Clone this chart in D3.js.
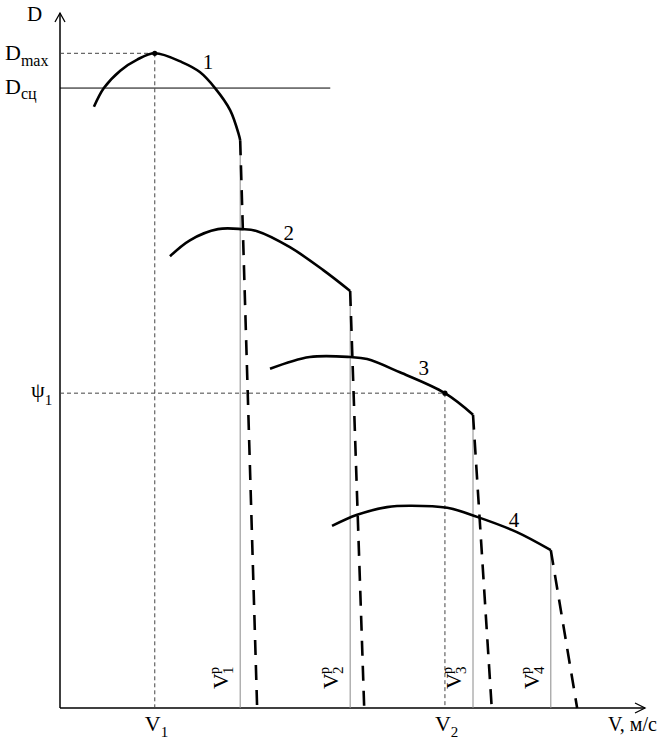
<!DOCTYPE html>
<html><head><meta charset="utf-8">
<script src="https://cdn.jsdelivr.net/npm/d3@7"></script>
<style>body{margin:0;background:#fff}svg{display:block}text{font-family:"Liberation Serif","Times New Roman",serif;fill:#000}</style>
</head><body>
<script>
// ---- data (arbitrary units: V along x, D along y) ----
const curveNames = ["1", "2", "3", "4"];
const curve1 = [[0.58,8.65],[0.75,8.92],[1.03,9.17],[1.32,9.33],[1.62,9.42],[2.09,9.29],[2.39,9.15],[2.65,8.92],[2.91,8.60],[3.06,8.24],[3.08,8.17]];
const curve2 = [[1.88,6.50],[2.22,6.73],[2.70,6.89],[3.11,6.89],[3.37,6.86],[3.93,6.63],[4.50,6.30],[4.96,6.00]];
const curve3 = [[3.59,4.88],[4.27,5.05],[4.96,5.05],[5.25,5.02],[5.81,4.83],[6.58,4.53],[7.06,4.22]];
const curve4 = [[4.65,2.62],[5.08,2.78],[5.59,2.89],[5.98,2.91],[6.62,2.88],[7.13,2.75],[7.81,2.53],[8.39,2.27]];
const criticalV = [3.08, 4.96, 7.06, 8.39];   // V^p_i
const dropEndV = [3.37, 5.20, 7.38, 8.84];    // where dashed drop reaches D=0
const Dmax = 9.42, V1 = 1.62;
const Dsc = 8.92, DscEndV = 4.62;
const psi1 = 4.53, V2 = 6.58;
const xAxisLabel = "V, м/с", yAxisLabel = "D";

const W = 671, H = 745;
const svg = d3.select("body").append("svg").attr("width", W).attr("height", H);
const x = d3.scaleLinear().domain([0, 10]).range([60, 645]);
const y = d3.scaleLinear().domain([0, 10]).range([708, 13]);
const curves = [curve1, curve2, curve3, curve4];

// axes
const ax = svg.append("g").attr("stroke", "#000").attr("stroke-width", 1.5).attr("fill", "none");
ax.append("line").attr("x1", x(0)).attr("y1", y(0)).attr("x2", x(0)).attr("y2", y(10));
ax.append("line").attr("x1", x(0)).attr("y1", y(0)).attr("x2", x(10)).attr("y2", y(0));
ax.append("path").attr("d", `M${x(0)-5},${y(10)+9}L${x(0)},${y(10)}L${x(0)+5},${y(10)+9}`).attr("stroke-width", 1.3);
ax.append("path").attr("d", `M${x(10)-10},${y(0)-5}L${x(10)},${y(0)}L${x(10)-10},${y(0)+5}`).attr("stroke-width", 1.3);

// reference lines
const thin = svg.append("g").attr("fill", "none");
thin.append("line").attr("x1", x(0)).attr("x2", x(DscEndV)).attr("y1", y(Dsc)).attr("y2", y(Dsc)).attr("stroke", "#000").attr("stroke-width", 1);
const dashRef = [[[0, Dmax], [V1, Dmax]], [[V1, Dmax], [V1, 0]], [[0, psi1], [V2, psi1]], [[V2, psi1], [V2, 0]]];
dashRef.forEach(s => thin.append("line")
  .attr("x1", x(s[0][0])).attr("y1", y(s[0][1])).attr("x2", x(s[1][0])).attr("y2", y(s[1][1]))
  .attr("stroke", "#444").attr("stroke-width", 1).attr("stroke-dasharray", "4,3"));

// critical-speed verticals (thin gray)
criticalV.forEach((v, i) => {
  const c = curves[i], end = c[c.length - 1];
  thin.append("line").attr("x1", x(v)).attr("x2", x(v)).attr("y1", y(end[1])).attr("y2", y(0))
    .attr("stroke", "#8a8a8a").attr("stroke-width", 1);
});

// curves
const line = d3.line().x(d => x(d[0])).y(d => y(d[1])).curve(d3.curveCatmullRom.alpha(0.5));
curves.forEach(c => svg.append("path").attr("d", line(c)).attr("fill", "none")
  .attr("stroke", "#000").attr("stroke-width", 2.6).attr("stroke-linejoin", "round"));

// dashed drops
curves.forEach((c, i) => {
  const end = c[c.length - 1];
  svg.append("line").attr("x1", x(end[0])).attr("y1", y(end[1])).attr("x2", x(dropEndV[i])).attr("y2", y(0))
    .attr("stroke", "#000").attr("stroke-width", 2.6).attr("stroke-dasharray", "15,10");
});

// points
[[V1, Dmax], [V2, psi1]].forEach(p => svg.append("circle").attr("cx", x(p[0])).attr("cy", y(p[1])).attr("r", 2.6).attr("fill", "#000"));

// curve number labels
const labelPos = [[2.53, 9.29], [3.91, 6.83], [6.22, 4.89], [7.76, 2.71]];
curveNames.forEach((n, i) => svg.append("text").attr("x", x(labelPos[i][0])).attr("y", y(labelPos[i][1]) + 7)
  .attr("text-anchor", "middle").attr("font-size", 21).attr("fill", "#000").text(n));

// axis labels
svg.append("text").attr("x", 27).attr("y", 21).attr("font-size", 21).attr("fill", "#000").text(yAxisLabel);
svg.append("text").attr("x", 608).attr("y", 731).attr("font-size", 20).attr("fill", "#000").text(xAxisLabel);

// D_max, D_сц, ψ1
function subLabel(px, py, main, sub, subDy, mainSize, subSize) {
  const t = svg.append("text").attr("x", px).attr("y", py).attr("font-size", mainSize).attr("fill", "#000");
  t.append("tspan").text(main);
  t.append("tspan").attr("dy", subDy).attr("font-size", subSize).text(sub);
}
subLabel(5, y(Dmax) + 7, "D", "max", 6, 22, 16);
subLabel(5, y(Dsc) + 6, "D", "сц", 5, 22, 16);
subLabel(31, y(psi1) + 4, "ψ", "1", 8, 22, 15);
subLabel(x(V1) - 10, 731, "V", "1", 6, 22, 15);
subLabel(x(V2) - 10, 731, "V", "2", 6, 22, 15);

// V^p_i rotated labels
criticalV.forEach((v, i) => {
  const g = svg.append("g").attr("transform", `translate(${x(v) - 12},689) rotate(-90)`);
  g.append("text").attr("x", 0).attr("y", 0).attr("font-size", 22).attr("fill", "#000").text("V");
  g.append("text").attr("x", 15).attr("y", -9).attr("font-size", 14).attr("fill", "#000").text("p");
  g.append("text").attr("x", 15).attr("y", 5).attr("font-size", 15).attr("fill", "#000").text(String(i + 1));
});
</script>
</body></html>
